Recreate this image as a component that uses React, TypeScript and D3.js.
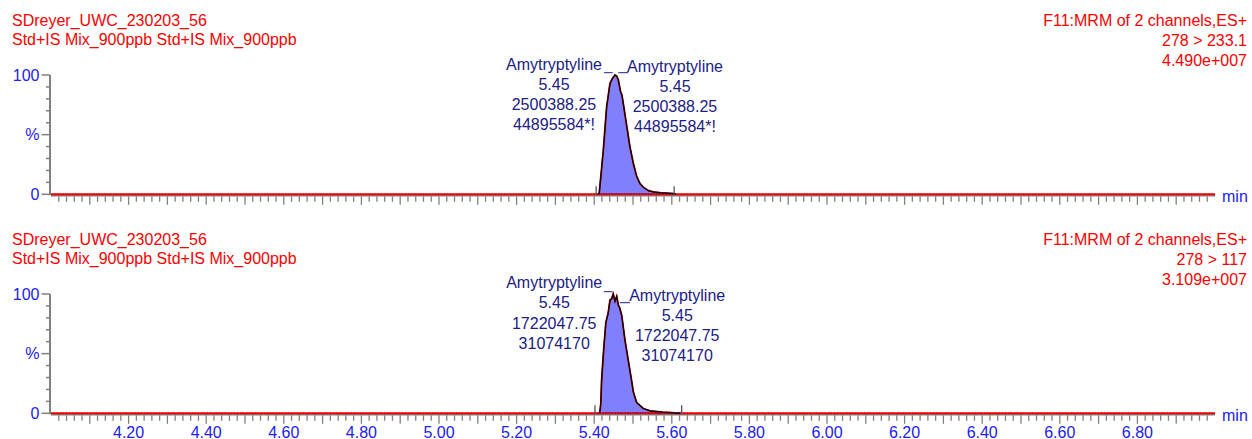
import React from "react"
import * as d3 from "d3"

// header texts
const sampleName = "SDreyer_UWC_230203_56"
const sampleDesc = "Std+IS Mix_900ppb Std+IS Mix_900ppb"
const functionTitle = "F11:MRM of 2 channels,ES+"
const transitions = ["278 > 233.1", "278 > 117"]
const maxIntensities = ["4.490e+007", "3.109e+007"]

// peak annotations
const compound = "Amytryptyline"
const retTimes = ["5.45", "5.45"]
const peakAreas = ["2500388.25", "1722047.75"]
const peakHeights = ["44895584*!", "31074170"]
const apexTimes = [5.4536, 5.449]
const integStart = [5.405, 5.402]
const integEnd = [5.606, 5.6255]

// traces (time in min, intensity in %)
const timesA = [4.0, 5.41, 5.413, 5.418, 5.4235, 5.432, 5.4407, 5.447, 5.4536, 5.458, 5.462, 5.468, 5.4715, 5.475, 5.484, 5.492, 5.5008, 5.5095, 5.518, 5.5265, 5.54, 5.552, 5.57, 5.587, 5.606, 5.611, 7.0]
const intensA = [0, 0, 1, 18, 37, 73, 93, 97, 100, 99, 96, 86, 83, 76, 57, 40, 26, 15, 9, 6, 3, 2, 1.3, 1, 0.5, 0, 0]
const timesB = [4.0, 5.414, 5.417, 5.419, 5.422, 5.425, 5.43, 5.436, 5.4407, 5.445, 5.449, 5.4536, 5.458, 5.462, 5.466, 5.471, 5.479, 5.488, 5.4966, 5.5008, 5.5095, 5.5265, 5.544, 5.577, 5.6, 5.621, 7.0]
const intensB = [0, 0, 8, 27, 42, 56, 76, 84, 95, 96, 100, 94, 98, 91, 88, 82, 62, 44, 27, 18, 9, 4, 2, 1, 0.5, 0, 0]

// axis ticks
const xTickLabels = [4.2, 4.4, 4.6, 4.8, 5.0, 5.2, 5.4, 5.6, 5.8, 6.0, 6.2, 6.4, 6.6, 6.8]
const yTickLabels = [0, 100]

const FONT = "'Liberation Sans', Arial, sans-serif"
const FS = 16
const RED = "#ff0000"
const BLUE = "#2020ff"
const NAVY = "#202088"
const GREY = "#808080"

const x = d3.scaleLinear().domain([4, 7]).range([51, 1215])

// label layout per panel (pixel offsets from apex)
const layouts = [
    { left: { dx: -61, dy: -5.5 }, right: { dx: 60, dy: -3.5 }, leadL: [-11, -2.3, -2.3], leadR: [3.3, 13.3, -2.3] },
    { left: { dx: -59, dy: -6 }, right: { dx: 64, dy: 6.5 }, leadL: [-9.3, -0.6, -2.3], leadR: [6.7, 16.7, 8.7] },
]

interface PanelProps {
    top: number
    idx: number
    times: number[]
    intens: number[]
    showLabels: boolean
}

const Panel = ({ top, idx, times, intens, showLabels }: PanelProps) => {
    const y = d3.scaleLinear().domain([0, 100]).range([top + 119.3, top])
    const y0 = y(0)
    const pts = times.map((t, i) => [t, intens[i]] as [number, number])
    const area = d3.area<[number, number]>().x((d) => x(d[0])).y0(y0).y1((d) => y(d[1]))
    const line = d3.line<[number, number]>().x((d) => x(d[0])).y((d) => y(d[1]))
    const peakPts = pts.filter((d) => d[0] > 4.0 && d[0] < 7.0)

    const minorX = d3.range(1, 150).map((i) => 4 + i * 0.02)
    const yTicks = d3.range(0, 11).map((i) => i * 10)

    const apexX = x(apexTimes[idx])
    const apexY = y(100)
    const lay = layouts[idx]
    const labelLines = [compound, retTimes[idx], peakAreas[idx], peakHeights[idx]]

    const txt = { fontFamily: FONT, fontSize: FS }

    return (
        <g>
            {/* headers */}
            <text x={12} y={top - 49.5} fill={RED} style={txt}>{sampleName}</text>
            <text x={12} y={top - 30} fill={RED} style={txt}>{sampleDesc}</text>
            <text x={1247} y={top - 49.5} fill={RED} textAnchor="end" style={txt}>{functionTitle}</text>
            <text x={1247} y={top - 29.5} fill={RED} textAnchor="end" style={txt}>{transitions[idx]}</text>
            <text x={1247} y={top - 9.5} fill={RED} textAnchor="end" style={txt}>{maxIntensities[idx]}</text>

            {/* y axis */}
            <line x1={50} x2={50} y1={y(100)} y2={y0 + 1} stroke={GREY} strokeWidth={2} />
            {yTicks.map((v) => (
                <line key={v} x1={v % 50 === 0 ? 41.5 : 46} x2={50} y1={y(v)} y2={y(v)} stroke={GREY} strokeWidth={1.5} />
            ))}
            {yTickLabels.map((v) => (
                <text key={v} x={39.5} y={y(v) + 5.5} fill={BLUE} textAnchor="end" style={txt}>{v}</text>
            ))}
            <text x={39.5} y={y(50) + 5.5} fill={BLUE} textAnchor="end" style={txt}>%</text>

            {/* x axis */}
            <line x1={51} x2={1215} y1={y0 + 1.5} y2={y0 + 1.5} stroke={GREY} strokeWidth={1.5} />
            {minorX.map((t, i) => {
                const major = Math.round(t * 100) % 10 === 0
                return <line key={i} x1={x(t)} x2={x(t)} y1={y0 + 2} y2={y0 + (major ? 10.5 : 7.5)} stroke={GREY} strokeWidth={1.3} />
            })}
            <text x={1222} y={y0 + 8} fill={BLUE} style={txt}>min</text>
            {showLabels &&
                xTickLabels.map((t) => (
                    <text key={t} x={x(t)} y={437.5} fill={BLUE} textAnchor="middle" style={txt}>{d3.format(".2f")(t)}</text>
                ))}

            {/* trace */}
            <path d={area(pts) ?? ""} fill="#8080ff" />
            <line x1={51} x2={1215} y1={y0} y2={y0} stroke={RED} strokeWidth={2} />
            <line x1={51} x2={1215} y1={y0} y2={y0} stroke="#b00000" strokeWidth={0.8} strokeDasharray="1,2" />
            <path d={line(peakPts) ?? ""} fill="none" stroke="#c00000" strokeWidth={1.8} />
            <path d={line(peakPts) ?? ""} fill="none" stroke="#000" strokeWidth={1.2} />

            {/* integration */}
            <line x1={x(integStart[idx])} x2={x(integEnd[idx])} y1={y0 - 0.5} y2={y0 - 0.5} stroke={NAVY} strokeWidth={1} strokeDasharray="1,1.5" />
            <line x1={x(integStart[idx])} x2={x(integStart[idx])} y1={y0 - 8} y2={y0 + 1} stroke="#555" strokeWidth={1.3} />
            <line x1={x(integEnd[idx])} x2={x(integEnd[idx])} y1={y0 - 8} y2={y0 + 1} stroke="#555" strokeWidth={1.3} />

            {/* leaders */}
            <line x1={apexX + lay.leadL[0]} x2={apexX + lay.leadL[1]} y1={apexY + lay.leadL[2]} y2={apexY + lay.leadL[2]} stroke={NAVY} strokeWidth={1} />
            <line x1={apexX + lay.leadR[0]} x2={apexX + lay.leadR[1]} y1={apexY + lay.leadR[2]} y2={apexY + lay.leadR[2]} stroke={NAVY} strokeWidth={1} />

            {/* labels */}
            {labelLines.map((s, i) => (
                <text key={"l" + i} x={apexX + lay.left.dx} y={apexY + lay.left.dy + i * 20.3} fill={NAVY} textAnchor="middle" style={txt}>{s}</text>
            ))}
            {labelLines.map((s, i) => (
                <text key={"r" + i} x={apexX + lay.right.dx} y={apexY + lay.right.dy + i * 20.3} fill={NAVY} textAnchor="middle" style={txt}>{s}</text>
            ))}
        </g>
    )
}

export default function App() {
    return (
        <div style={{ position: "fixed", left: 0, top: 0, width: 1252, height: 439, background: "#fff" }}>
            <svg width={1252} height={439} style={{ display: "block" }}>
                <Panel top={75} idx={0} times={timesA} intens={intensA} showLabels={false} />
                <Panel top={294} idx={1} times={timesB} intens={intensB} showLabels={true} />
            </svg>
        </div>
    )
}
